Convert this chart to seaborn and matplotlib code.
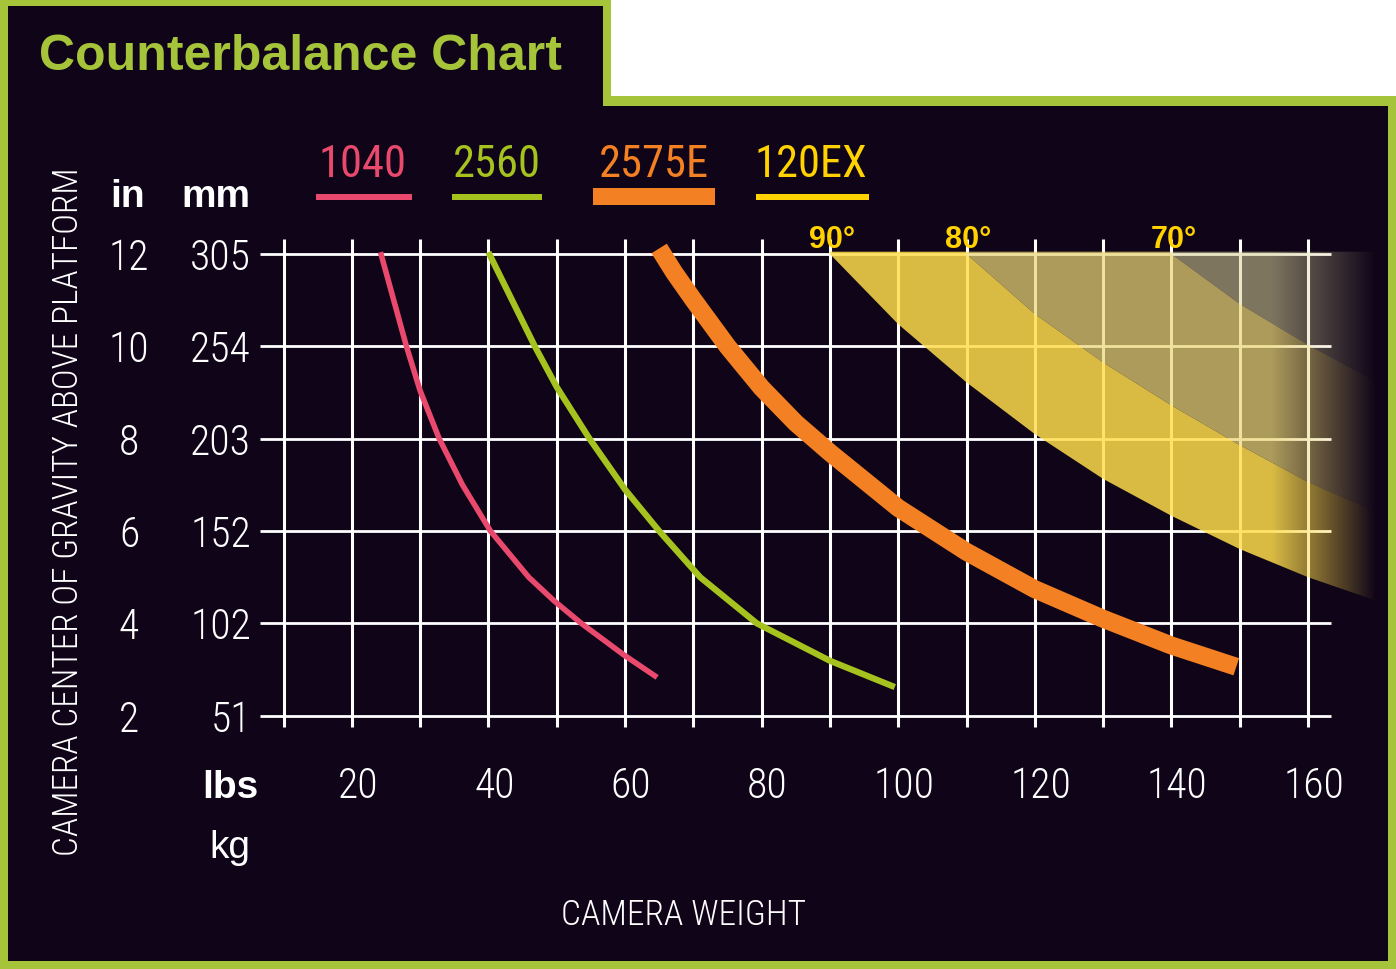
import numpy as np
import seaborn as sns
import matplotlib.pyplot as plt
from matplotlib.patches import Polygon, Rectangle

# curves: camera weight (lbs) vs centre of gravity height (in)
lbs_1040 = [24.2, 28.0, 30.0, 32.8, 36.2, 40.3, 45.9, 49.6, 53.6, 59.8, 64.7]
in_1040 = [12.04, 10.0, 9.04, 8.0, 7.0, 6.0, 5.0, 4.49, 4.0, 3.32, 2.83]
lbs_2560 = [40.0, 46.8, 50.0, 54.8, 60.0, 65.0, 71.0, 79.3, 90.0, 99.5]
in_2560 = [12.04, 10.0, 9.12, 8.0, 6.9, 6.0, 5.0, 4.0, 3.19, 2.62]
lbs_2575e = [65.0, 67.2, 70.0, 75.0, 80.0, 85.0, 90.0, 100.0, 110.0, 120.0, 130.0, 140.0, 149.5]
in_2575e = [12.12, 11.6, 11.01, 10.0, 9.1, 8.34, 7.7, 6.5, 5.55, 4.74, 4.1, 3.52, 3.06]

# 120EX limits for the three tilt angles
lbs_90 = [90, 100, 110, 120, 130, 140, 150, 160, 170]
in_90 = [12.0, 10.48, 9.22, 8.10, 7.13, 6.33, 5.61, 5.0, 4.49]
lbs_80 = [110, 120, 130, 140, 150, 160, 170]
in_80 = [12.0, 10.70, 9.65, 8.72, 7.86, 7.06, 6.40]
lbs_70 = [140, 150, 160, 170]
in_70 = [12.0, 10.92, 10.03, 9.23]

in_ticks = [12, 10, 8, 6, 4, 2]
mm_ticks = [305, 254, 203, 152, 102, 51]
lbs_grid = list(range(10, 170, 10))
lbs_ticks = list(range(20, 180, 20))

models = ["1040", "2560", "2575E", "120EX"]

BG = "#0f0418"
GREEN = "#a6c43a"
PINK = "#e9496d"
LIME = "#a5c21f"
ORANGE = "#f38022"
YELLOW = "#ffd200"

sns.set_theme(style="dark")
plt.rcParams["font.family"] = ["Roboto Condensed", "Liberation Sans", "DejaVu Sans"]
NARROW = ["Roboto Condensed", "Liberation Sans", "DejaVu Sans"]
WIDE = ["Liberation Sans", "DejaVu Sans"]

# pixel layout of the 1396x970 picture
W, H = 1396, 970
X10, PXLB = 283.5, 6.83     # x pixel of 10 lbs, pixels per lb
Y12, PXIN = 255.0, 46.17    # y pixel of 12 in, pixels per inch


def lb(px):
    return 10 + (px - X10) / PXLB


def inch(py):
    return 12 - (py - Y12) / PXIN


fig = plt.figure(figsize=(W / 100, H / 100), dpi=100)
fig.patch.set_facecolor(GREEN)
ax = fig.add_axes([0, 0, 1, 1])
ax.axis("off")


def px_rect(x0, y0, x1, y1, color, z=0):
    ax.add_patch(Rectangle((x0 / W, 1 - y1 / H), (x1 - x0) / W, (y1 - y0) / H,
                           transform=ax.transAxes, facecolor=color,
                           edgecolor="none", zorder=z))


def px_text(x, y, s, **kw):
    fig.text(x / W, 1 - y / H, s, **kw)


# frame: green border, white notch top right
px_rect(611, 0, W, 97, "white")
px_rect(8, 107, 1388, 962, BG)
px_rect(8, 7, 603, 108, BG)

# grid with tick stubs
ax.hlines(in_ticks, lb(259.5), lb(1331), colors="white", linewidth=2.0, zorder=1)
ax.vlines(lbs_grid, inch(728), inch(240), colors="white", linewidth=2.2, zorder=1)

# 120EX bands, fading out to the right
top = 12.05
bands = [
    (list(zip(lbs_90, in_90)) + list(zip(lbs_80, in_80))[::-1] + [(lbs_80[0], top), (lbs_90[0], top)],
     (1.0, 0.87, 0.30), 0.85),
    (list(zip(lbs_80, in_80)) + list(zip(lbs_70, in_70))[::-1] + [(lbs_70[0], top), (lbs_80[0], top)],
     (0.925, 0.845, 0.465), 0.72),
    (list(zip(lbs_70, in_70)) + [(lbs_70[-1], top), (lbs_70[0], top)],
     (0.86, 0.83, 0.61), 0.55),
]
xs = np.linspace(88, 172, 800)
fade = np.clip((lb(1377) - xs) / (lb(1377) - lb(1272)), 0, 1)
for verts, rgb, alpha in bands:
    poly = Polygon(verts, closed=True, facecolor="none", edgecolor="none")
    ax.add_patch(poly)
    img = np.zeros((1, len(xs), 4))
    img[..., :3] = rgb
    img[..., 3] = alpha * fade
    im = ax.imshow(img, extent=(88, 172, 4.0, 12.3), origin="lower",
                   aspect="auto", interpolation="bilinear", zorder=2)
    im.set_clip_path(poly)

# model curves
for xv, yv, col, lw in [(lbs_1040, in_1040, PINK, 4.0),
                        (lbs_2560, in_2560, LIME, 4.5),
                        (lbs_2575e, in_2575e, ORANGE, 13.0)]:
    sns.lineplot(x=xv, y=yv, color=col, linewidth=lw, sort=False,
                 solid_capstyle="butt", solid_joinstyle="round",
                 zorder=3, ax=ax, legend=False)

for start, name in [(lbs_90[0], "90°"), (lbs_80[0], "80°"), (lbs_70[0], "70°")]:
    ax.text(start + 0.3, inch(248), name, color=YELLOW, fontsize=22,
            fontweight="bold", family=WIDE, ha="center", va="baseline")

ax.set_xlim(lb(0), lb(W))
ax.set_ylim(inch(H), inch(0))

# title
px_text(39, 70, "Counterbalance Chart", color=GREEN, fontsize=36,
        fontweight="bold", family=WIDE, ha="left", va="baseline")

# legend
leg_centers = [362, 497, 654, 811]
leg_bars = [(316, 412, 195, 201), (452, 542, 195, 201), (593, 715, 189, 206), (756, 869, 195, 201)]
for name, col, cx, bar in zip(models, [PINK, LIME, ORANGE, YELLOW], leg_centers, leg_bars):
    px_text(cx, 177, name, color=col, fontsize=32, family=NARROW,
            ha="center", va="baseline")
    px_rect(bar[0], bar[2], bar[1], bar[3], col, z=3)

# axis labels
px_text(128, 207, "in", color="white", fontsize=28, fontweight="bold",
        family=WIDE, ha="center", va="baseline")
px_text(250, 207, "mm", color="white", fontsize=28, fontweight="bold",
        family=WIDE, ha="right", va="baseline")
for v, mm in zip(in_ticks, mm_ticks):
    py = Y12 + (12 - v) * PXIN + 15
    px_text(129, py, str(v), color="white", fontsize=30, family=NARROW,
            fontweight="light", ha="center", va="baseline")
    px_text(251, py, str(mm), color="white", fontsize=30, family=NARROW,
            fontweight="light", ha="right", va="baseline")

px_text(230, 798, "lbs", color="white", fontsize=28, fontweight="bold",
        family=WIDE, ha="center", va="baseline")
px_text(230, 858, "kg", color="white", fontsize=28, family=WIDE,
        ha="center", va="baseline")
for v in lbs_ticks:
    px_text(X10 + (v - 10) * PXLB + 6, 798, str(v), color="white", fontsize=30,
            family=NARROW, fontweight="light", ha="center", va="baseline")

px_text(684, 925, "CAMERA WEIGHT", color="white", fontsize=25.5, family=NARROW,
        fontweight="light", ha="center", va="baseline")
px_text(68, 512, "CAMERA CENTER OF GRAVITY ABOVE PLATFORM", color="white",
        fontsize=25.3, family=NARROW, fontweight="light", rotation=90,
        ha="center", va="center")

fig.savefig("out.png", dpi=100, facecolor=fig.get_facecolor())
